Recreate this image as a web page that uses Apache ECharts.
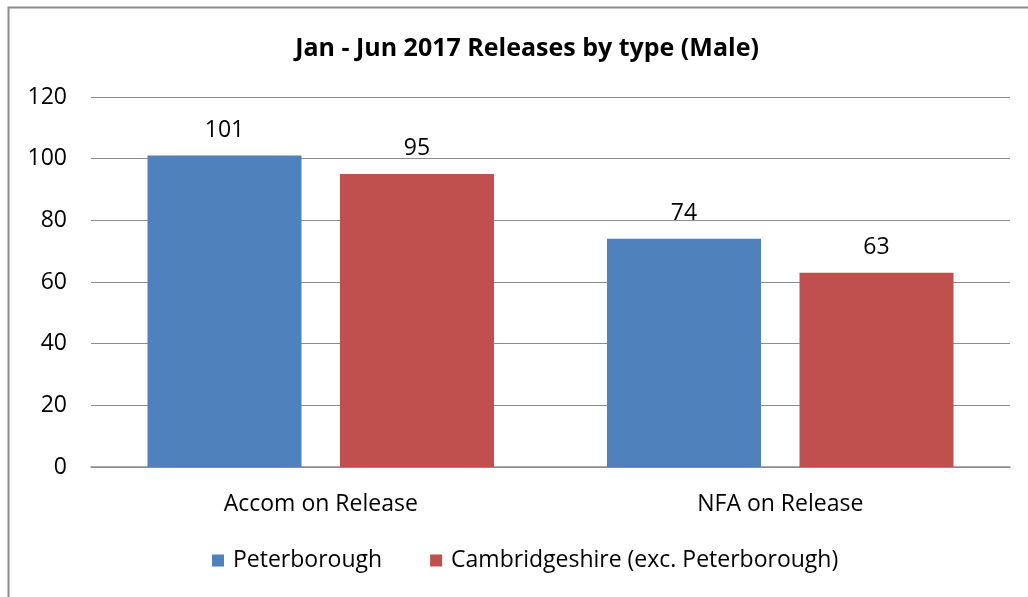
<!DOCTYPE html>
<html><head><meta charset="utf-8">
<script src="https://cdn.jsdelivr.net/npm/echarts@6/dist/echarts.min.js"></script>
<style>html,body{margin:0;padding:0;background:#fff}#c{width:1028px;height:597px}</style>
</head><body><div id="c"></div>
<script>
const categories = ["Accom on Release", "NFA on Release"];
const peterborough = [101, 74];
const cambridgeshire = [95, 63];
const yTicks = [0, 20, 40, 60, 80, 100, 120];
const seriesNames = ["Peterborough", "Cambridgeshire (exc. Peterborough)"];
const title = "Jan - Jun 2017 Releases by type (Male)";

const font = "'Open Sans', 'Liberation Sans', sans-serif";
const chart = echarts.init(document.getElementById('c'));
chart.setOption({
  animation: false,
  graphic: [{type:'rect', shape:{x:8.5,y:7.5,width:1030,height:600}, style:{fill:'none', stroke:'#8c8c8c', lineWidth:2}, z:-1}],
  title: {text: title, left: 522, top: 31, textAlign:'center',
    textStyle:{fontFamily:font, fontSize:25, fontWeight:'bold', color:'#000'}},
  legend: {bottom: 20, left: 207, itemWidth: 12, itemHeight: 12, itemGap: 48,
    icon: 'rect', textStyle:{fontFamily:font, fontSize:23, color:'#000', padding:[0,0,0,4]}},
  grid: {left: 91, right: 18, top: 97, bottom: 130},
  xAxis: {type:'category', data: categories,
    axisLine:{lineStyle:{color:'#8c8c8c', width:1.5}}, axisTick:{show:false},
    axisLabel:{fontFamily:font, fontSize:23, color:'#000', margin:26}},
  yAxis: {type:'value', min: yTicks[0], max: yTicks[yTicks.length-1], interval: 20,
    axisLine:{show:false}, axisTick:{show:false},
    splitLine:{lineStyle:{color:'#8c8c8c', width:1.2}},
    axisLabel:{fontFamily:font, fontSize:23, color:'#000', margin:24}},
  series: [
    {name: seriesNames[0], type:'bar', data: peterborough, barWidth: 154, barGap:'25%',
     itemStyle:{color:'#4f81bd'},
     label:{show:true, position:'top', distance:14, fontFamily:font, fontSize:23, color:'#000'}},
    {name: seriesNames[1], type:'bar', data: cambridgeshire, barWidth: 154,
     itemStyle:{color:'#c0504d'},
     label:{show:true, position:'top', distance:14, fontFamily:font, fontSize:23, color:'#000'}}
  ]
});
</script></body></html>
